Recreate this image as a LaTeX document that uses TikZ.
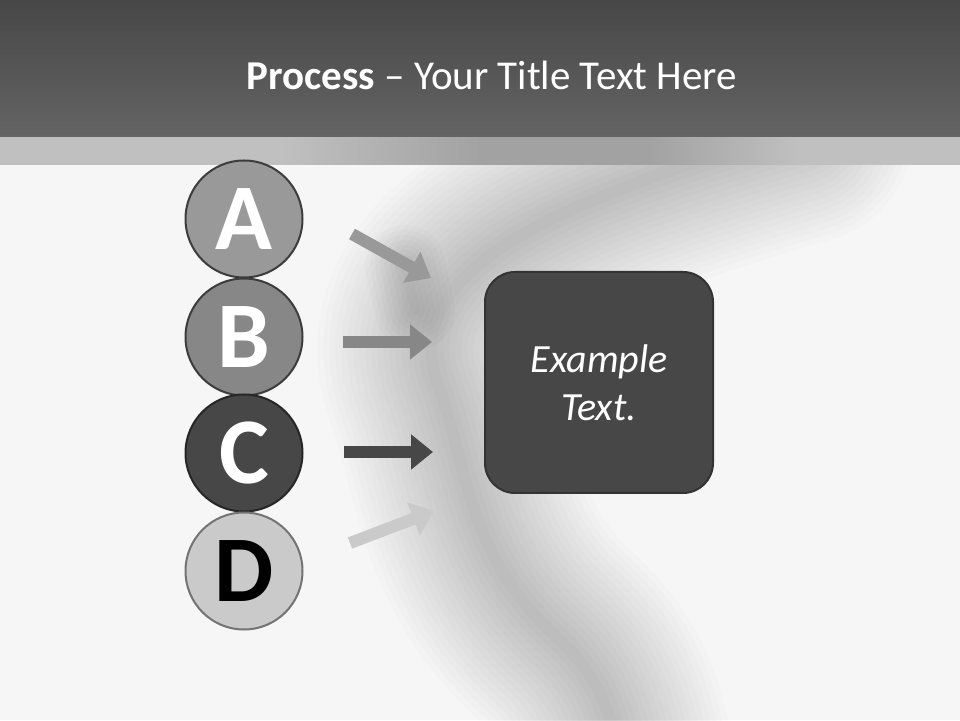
\documentclass[tikz,border=0pt]{standalone}
\usepackage{fontspec}
\setmainfont{Carlito}
\usetikzlibrary{arrows.meta,fadings}
\definecolor{hdtop}{HTML}{474747}
\definecolor{hdbot}{HTML}{646464}
\definecolor{bandc}{HTML}{C0C0C0}
\definecolor{banddk}{HTML}{A2A2A2}
\definecolor{bgc}{HTML}{F6F6F6}
\definecolor{ca}{HTML}{999999}
\definecolor{cb}{HTML}{878787}
\definecolor{cc}{HTML}{474747}
\definecolor{cd}{HTML}{CACACA}
\definecolor{ringc}{HTML}{3C3C3C}
\definecolor{boxc}{HTML}{474747}
\tikzset{
  letter/.style={circle, minimum size=117pt, inner sep=0pt, line width=2pt, draw=ringc,
     font=\fontsize{94}{94}\selectfont\bfseries, text=white},
  flow/.style={line width=12pt, -{Triangle[length=22pt,width=34pt]}},
  swirl/.style={draw=black, draw opacity=0.011, line cap=round, fill=none}
}
\begin{document}
\begin{tikzpicture}[x=1pt,y=1pt]
\useasboundingbox (0,0) rectangle (960,720);
% background
\fill[bgc] (0,0) rectangle (960,556);
\begin{scope}
\clip (0,0) rectangle (960,556);
\foreach \w in {12,24,...,230}{
  \draw[swirl, line width=\w pt] (800,590) .. controls (560,520) and (390,450) .. (440,330)
      .. controls (470,240) and (470,160) .. (560,80) .. controls (600,40) and (610,10) .. (620,-40);
}
\foreach \w in {10,20,...,80}{
  \draw[swirl, draw opacity=0.015, line width=\w pt] (405,455) -- (415,410);
}
\end{scope}
% band
\fill[bandc] (0,555) rectangle (960,588);
\shade[left color=bandc, right color=banddk] (280,555) rectangle (481,588);
\fill[banddk] (479,555) rectangle (651,588);
\shade[left color=banddk, right color=bandc] (649,555) rectangle (800,588);
% header
\shade[top color=hdtop, bottom color=hdbot] (0,583) rectangle (960,720);
\node[font=\fontsize{41}{41}\selectfont, text=white] (title) at (492,645)
  {\textbf{Process} – Your Title Text Here};
% circles
\node[letter, fill=ca] (A) at (244,501) {A};
\node[letter, fill=cb] (B) at (244,383) {B};
\node[letter, fill=cc, draw=black!85] (C) at (244,267) {C};
\node[letter, fill=cd, draw=black!55, text=black] (D) at (244,149) {D};
% target box
\node[draw=black!80, line width=2pt, fill=boxc, rounded corners=30pt,
      minimum width=228pt, minimum height=221pt, text=white, align=center,
      font=\fontsize{40}{48}\selectfont\itshape] (box) at (599,337.5) {Example\\Text.};
% arrows
\coordinate (a1) at (352,486); \coordinate (a2) at (431,442);
\coordinate (b1) at (343,378); \coordinate (b2) at (432,378);
\coordinate (c1) at (344,268); \coordinate (c2) at (433,268);
\coordinate (d1) at (350,177); \coordinate (d2) at (434,209);
\draw[flow, draw=ca, fill=ca] (a1) -- (a2);
\draw[flow, draw=cb, fill=cb] (b1) -- (b2);
\draw[flow, draw=cc, fill=cc] (c1) -- (c2);
\draw[flow, draw=cd, fill=cd] (d1) -- (d2);
\end{tikzpicture}
\end{document}
